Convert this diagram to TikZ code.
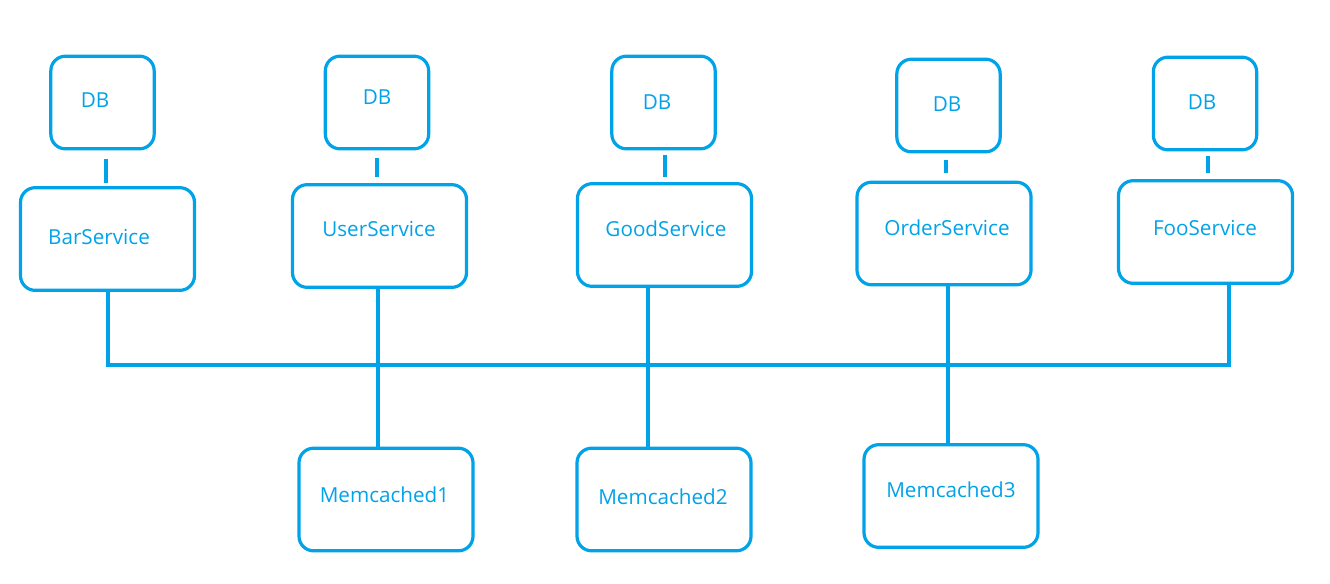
\documentclass[tikz,border=0pt]{standalone}
\usepackage{fontspec}
\setmainfont{Open Sans}
\definecolor{mainblue}{RGB}{0,162,232}
\begin{document}
\begin{tikzpicture}[x=0.75pt,y=-0.75pt,
  line width=2.4pt, draw=mainblue,
  box/.style={draw=mainblue, rounded corners=11pt, line width=2.4pt, inner sep=0pt},
  dbbox/.style={box, minimum width=77.5pt, minimum height=69.5pt},
  svcbox/.style={box, minimum width=130.5pt, minimum height=77pt},
  lbl/.style={text=mainblue, font=\fontsize{15.5}{18}\selectfont, inner sep=0pt},
  wire/.style={draw=mainblue, line width=2.4pt}]
\useasboundingbox (0,0) rectangle (1330,583);
% DB boxes
\node[dbbox] (db1) at (102.5,102.5) {};
\node[dbbox] (db2) at (377,102.5) {};
\node[dbbox] (db3) at (663.5,102.5) {};
\node[dbbox] (db4) at (948.5,105.5) {};
\node[dbbox] (db5) at (1205,103.5) {};
\node[lbl] (tdb1) at (95,100) {DB};
\node[lbl] (tdb2) at (377,97) {DB};
\node[lbl] (tdb3) at (657,102) {DB};
\node[lbl] (tdb4) at (947,104) {DB};
\node[lbl] (tdb5) at (1202,102) {DB};
% service boxes
\node[svcbox] (bar) at (107.5,239) {};
\node[svcbox] (user) at (379.5,236) {};
\node[svcbox] (good) at (664.5,235) {};
\node[svcbox] (order) at (944,233.5) {};
\node[svcbox] (foo) at (1205.5,232) {};
\node[lbl] (tbar) at (99,237) {BarService};
\node[lbl] (tuser) at (379,229) {UserService};
\node[lbl] (tgood) at (666,229) {GoodService};
\node[lbl] (torder) at (947,228) {OrderService};
\node[lbl] (tfoo) at (1205,228) {FooService};
% memcached boxes
\node[svcbox] (mem1) at (386,499.5) {};
\node[svcbox] (mem2) at (664,499.5) {};
\node[svcbox] (mem3) at (951,496) {};
\node[lbl] (tmem1) at (384.5,495) {Memcached1};
\node[lbl] (tmem2) at (663,497) {Memcached2};
\node[lbl] (tmem3) at (951,490) {Memcached3};
% short ticks between DB and service
\coordinate (k1a) at (106,159); \coordinate (k1b) at (106,183);
\coordinate (k2a) at (377,158); \coordinate (k2b) at (377,177);
\coordinate (k3a) at (665,155); \coordinate (k3b) at (665,177);
\coordinate (k4a) at (946,160); \coordinate (k4b) at (946,173);
\coordinate (k5a) at (1208,156); \coordinate (k5b) at (1208,173);
\draw[wire] (k1a) -- (k1b);
\draw[wire] (k2a) -- (k2b);
\draw[wire] (k3a) -- (k3b);
\draw[wire] (k4a) -- (k4b);
\draw[wire] (k5a) -- (k5b);
% bus
\coordinate (busL) at (108,365);
\coordinate (busR) at (1229,365);
\draw[wire] (bar.south -| busL) -- (busL) -- (busR) -- (foo.south -| busR);
% service to memcached verticals
\coordinate (xu) at (378,0);
\coordinate (xg) at (648,0);
\coordinate (xo) at (948,0);
\draw[wire] (user.south -| xu) -- (mem1.north -| xu);
\draw[wire] (good.south -| xg) -- (mem2.north -| xg);
\draw[wire] (order.south -| xo) -- (mem3.north -| xo);
\end{tikzpicture}
\end{document}
